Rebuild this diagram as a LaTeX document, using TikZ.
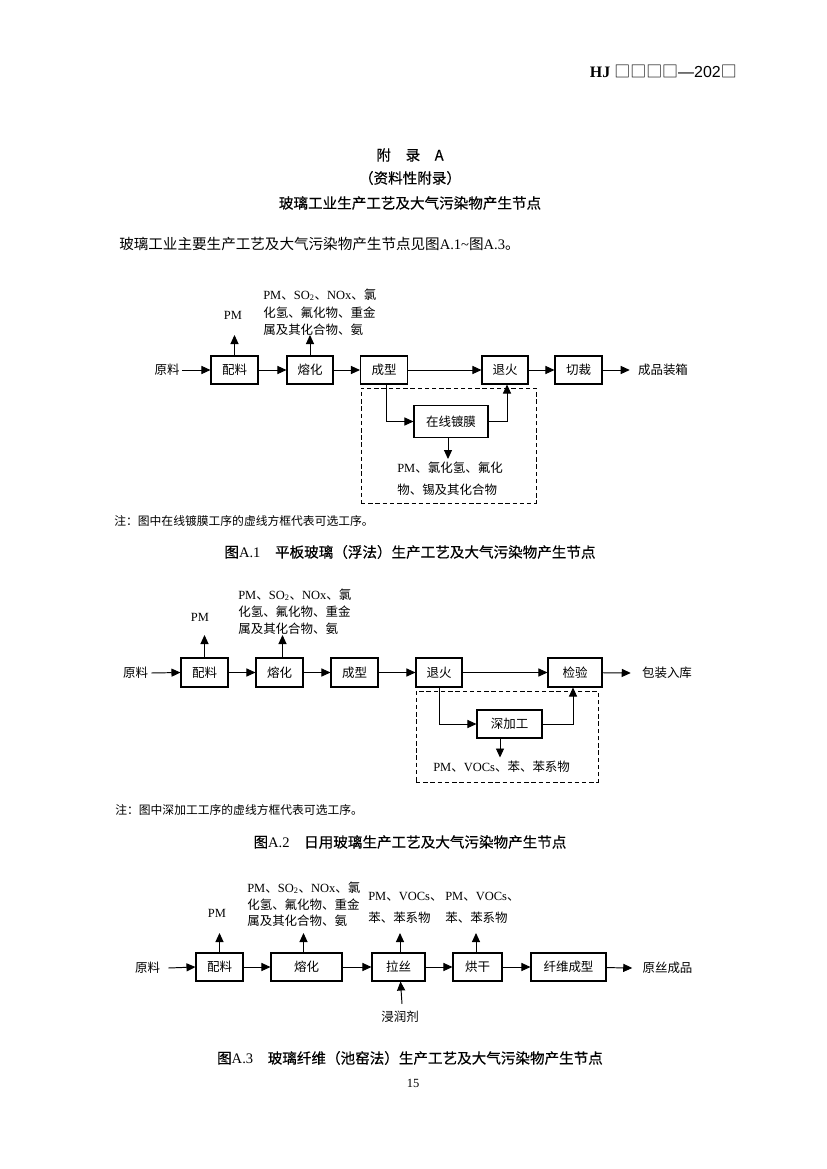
\documentclass[tikz,border=0pt]{standalone}
\usepackage{fontspec}
\setmainfont{Liberation Serif}
\newfontfamily\cjk{Noto Sans CJK SC}
\newfontfamily\hei{Noto Sans CJK SC}[FakeBold=0.4]
\newfontfamily\sansf{Liberation Sans}
\usetikzlibrary{arrows.meta}
\newcommand\C[1]{{\cjk #1}}
\newcommand\pxu{0.7207pt}
\tikzset{
  lbl/.style={inner sep=0pt, font=\fontsize{9}{11}\selectfont},
  emi/.style={anchor=west, inner sep=0pt, font=\fontsize{9}{11}\selectfont},
  pbox/.style={draw, line width=0.75pt, inner sep=0pt, minimum height=28*\pxu, font=\fontsize{9}{11}\selectfont},
  bw/.style={minimum width=#1*\pxu},
  bh/.style={minimum height=#1*\pxu},
  arr/.style={-{Triangle[length=6.5pt,width=5.8pt]}, line width=0.7pt},
  opt/.style={draw, dash pattern=on 3.2pt off 2pt, line width=0.7pt, inner sep=0pt},
  ttl/.style={inner sep=0pt, font=\fontsize{10.5}{12}\selectfont},
  note/.style={anchor=west, inner sep=0pt, font=\fontsize{8.5}{10}\selectfont}
}
\begin{document}
\begin{tikzpicture}[x=0.7207pt, y=-0.7207pt]
\useasboundingbox[fill=white] (0,0) rectangle (826,1169);

% header and titles
\node[anchor=east, inner sep=0pt, font=\fontsize{11.5}{13}\selectfont] (hdr) at (737,71) {\textbf{HJ} {\cjk □□□□}{\sansf —202}{\cjk □}};
\node[ttl] (t1) at (410,155) {\hei 附\quad 录\quad A};
\node[ttl] (t2) at (410,178) {\hei （资料性附录）};
\node[ttl] (t3) at (410,203) {\hei 玻璃工业生产工艺及大气污染物产生节点};
\node[anchor=west, inner sep=0pt, font=\fontsize{10.5}{12}\selectfont] (intro) at (119,244) {\C{玻璃工业主要生产工艺及大气污染物产生节点见图}A.1\textasciitilde\C{图}A.3\C{。}};

% ---------------- Figure A.1 ----------------
\node[lbl] (d1in) at (167,370) {\C{原料}};
\node[pbox, bw=47] (d1a) at (234.5,370) {\C{配料}};
\node[pbox, bw=46] (d1b) at (310,370) {\C{熔化}};
\node[pbox, bw=47] (d1c) at (384,370) {\C{成型}};
\node[pbox, bw=46] (d1d) at (505,370) {\C{退火}};
\node[pbox, bw=47] (d1e) at (578.5,370) {\C{切裁}};
\node[lbl] (d1out) at (663,370) {\C{成品装箱}};
\node[opt, bw=175, bh=115] (d1opt) at (448.5,445.5) {};
\node[pbox, bw=74, bh=32] (d1f) at (451,421.5) {\C{在线镀膜}};

\node[lbl] (d1pm) at (233,315) {PM};
\node[emi] (d1e1) at (263,295) {PM\C{、}SO\textsubscript{2}\C{、}NOx\C{、氯}};
\node[emi] (d1e2) at (263,313) {\C{化氢、氟化物、重金}};
\node[emi] (d1e3) at (263,330) {\C{属及其化合物、氨}};
\node[emi] (d1g1) at (397,468) {PM\C{、氯化氢、氟化}};
\node[emi] (d1g2) at (397,490) {\C{物、锡及其化合物}};

\coordinate (d1top) at (0,335);
\draw[arr] ([xshift=2*\pxu]d1in.east) -- (d1a.west);
\draw[arr] (d1a) -- (d1b);
\draw[arr] (d1b) -- (d1c);
\draw[arr] (d1c) -- (d1d);
\draw[arr] (d1d) -- (d1e);
\draw[arr] (d1e) -- ([xshift=-8*\pxu]d1out.west);
\draw[arr] (d1a.north) -- (d1a.north |- d1top);
\draw[arr] (d1b.north) -- (d1b.north |- d1top);
\draw[arr] ([xshift=2*\pxu]d1c.south) |- (d1f.west);
\draw[arr] (d1f.east) -| ([xshift=2*\pxu]d1d.south);
\draw[arr] ([xshift=-3*\pxu]d1f.south) -- ++(0,21);

\node[note] (n1) at (114,521) {\C{注：图中在线镀膜工序的虚线方框代表可选工序。}};
\node[ttl] (c1) at (410,552) {{\hei 图}A.1\hspace{1em}{\hei 平板玻璃（浮法）生产工艺及大气污染物产生节点}};

% ---------------- Figure A.2 ----------------
\node[lbl] (d2in) at (135.5,673) {\C{原料}};
\node[pbox, bw=47, bh=29] (d2a) at (204.5,672.5) {\C{配料}};
\node[pbox, bw=47, bh=29] (d2b) at (279.5,672.5) {\C{熔化}};
\node[pbox, bw=47, bh=29] (d2c) at (354.5,672.5) {\C{成型}};
\node[pbox, bw=46, bh=29] (d2d) at (439,672.5) {\C{退火}};
\node[pbox, bw=54, bh=29] (d2e) at (575,672.5) {\C{检验}};
\node[lbl] (d2out) at (667,673) {\C{包装入库}};
\node[opt, bw=182, bh=91] (d2opt) at (507,736.5) {};
\node[pbox, bw=65, bh=28] (d2f) at (509.5,724) {\C{深加工}};

\node[lbl] (d2pm) at (200,617) {PM};
\node[emi] (d2e1) at (238,595) {PM\C{、}SO\textsubscript{2}\C{、}NOx\C{、氯}};
\node[emi] (d2e2) at (238,612) {\C{化氢、氟化物、重金}};
\node[emi] (d2e3) at (238,629) {\C{属及其化合物、氨}};
\node[emi] (d2g1) at (433,767) {PM\C{、}VOCs\C{、苯、苯系物}};

\coordinate (d2top) at (0,635);
\draw[arr] ([xshift=3*\pxu]d2in.east) -- (d2a.west);
\draw[arr] (d2a) -- (d2b);
\draw[arr] (d2b) -- (d2c);
\draw[arr] (d2c) -- (d2d);
\draw[arr] (d2d) -- (d2e);
\draw[arr] (d2e) -- ([xshift=-11*\pxu]d2out.west);
\draw[arr] (d2a.north) -- (d2a.north |- d2top);
\draw[arr] ([xshift=3*\pxu]d2b.north) -- ([xshift=3*\pxu]d2b.north |- d2top);
\draw[arr] (d2d.south) |- (d2f.west);
\draw[arr] (d2f.east) -| ([xshift=-2*\pxu]d2e.south);
\draw[arr] ([xshift=-9.5*\pxu]d2f.south) -- ++(0,19);

\node[note] (n2) at (115,810) {\C{注：图中深加工工序的虚线方框代表可选工序。}};
\node[ttl] (c2) at (410,842) {{\hei 图}A.2\hspace{1em}{\hei 日用玻璃生产工艺及大气污染物产生节点}};

% ---------------- Figure A.3 ----------------
\node[lbl] (d3in) at (147.5,968) {\C{原料}};
\node[pbox, bw=47] (d3a) at (219.5,967) {\C{配料}};
\node[pbox, bw=71] (d3b) at (306.5,967) {\C{熔化}};
\node[pbox, bw=53] (d3c) at (398.5,967) {\C{拉丝}};
\node[pbox, bw=49] (d3d) at (477.5,967) {\C{烘干}};
\node[pbox, bw=75] (d3e) at (568.5,967) {\C{纤维成型}};
\node[lbl] (d3out) at (667.5,968) {\C{原丝成品}};
\node[lbl] (d3w) at (400,1017) {\C{浸润剂}};

\node[lbl] (d3pm) at (217,913) {PM};
\node[emi] (d3e1) at (247,888) {PM\C{、}SO\textsubscript{2}\C{、}NOx\C{、氯}};
\node[emi] (d3e2) at (247,905) {\C{化氢、氟化物、重金}};
\node[emi] (d3e3) at (247,921) {\C{属及其化合物、氨}};
\node[emi] (d3f1) at (368,897) {PM\C{、}VOCs\C{、}};
\node[emi] (d3f2) at (368,918) {\C{苯、苯系物}};
\node[emi] (d3g1) at (445,897) {PM\C{、}VOCs\C{、}};
\node[emi] (d3g2) at (445,918) {\C{苯、苯系物}};

\coordinate (d3top) at (0,933);
\draw[arr] ([xshift=8*\pxu]d3in.east) -- (d3a.west);
\draw[arr] (d3a) -- (d3b);
\draw[arr] (d3b) -- (d3c);
\draw[arr] (d3c) -- (d3d);
\draw[arr] (d3d) -- (d3e);
\draw[arr] (d3e) -- ([xshift=-10*\pxu]d3out.west);
\draw[arr] (d3a.north) -- (d3a.north |- d3top);
\draw[arr] ([xshift=-3*\pxu]d3b.north) -- ([xshift=-3*\pxu]d3b.north |- d3top);
\draw[arr] ([xshift=1.5*\pxu]d3c.north) -- ([xshift=1.5*\pxu]d3c.north |- d3top);
\draw[arr] ([xshift=-1.5*\pxu]d3d.north) -- ([xshift=-1.5*\pxu]d3d.north |- d3top);
\draw[arr] ([xshift=2*\pxu,yshift=7*\pxu]d3w.north) -- ([xshift=2*\pxu]d3c.south);

\node[ttl] (c3) at (410,1058) {{\hei 图}A.3\hspace{1em}{\hei 玻璃纤维（池窑法）生产工艺及大气污染物产生节点}};
\node[inner sep=0pt, font=\fontsize{9}{10}\selectfont] (pg) at (413,1083) {15};
\end{tikzpicture}
\end{document}
